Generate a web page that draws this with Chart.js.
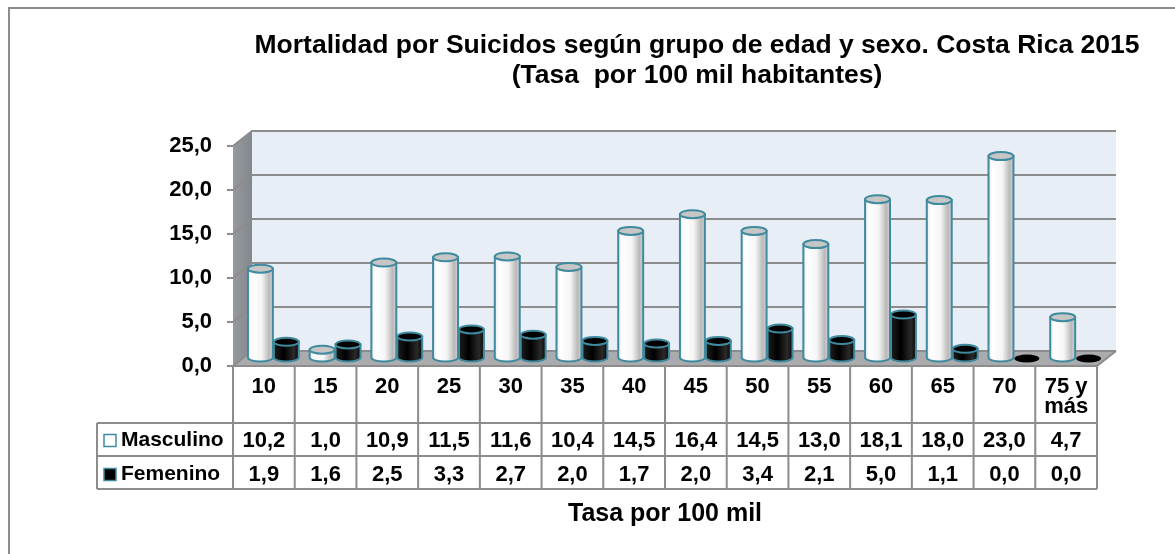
<!DOCTYPE html>
<html lang="es">
<head>
	<meta charset="UTF-8">
	<title>Mortalidad por Suicidos</title>
	<script src="https://cdn.jsdelivr.net/npm/chart.js@4.4.0/dist/chart.umd.min.js"></script>
	<style>
		body { margin: 0; background: #fff; }
		#caja { position: relative; width: 1175px; height: 554px; }
	</style>
</head>
<body>
	<div id="caja"><canvas id="grafico"></canvas></div>

	<script>
		// datos
		const grupos = ['10', '15', '20', '25', '30', '35', '40', '45', '50', '55', '60', '65', '70', ['75 y', 'más']];
		const masculino = [10.2, 1.0, 10.9, 11.5, 11.6, 10.4, 14.5, 16.4, 14.5, 13.0, 18.1, 18.0, 23.0, 4.7];
		const femenino = [1.9, 1.6, 2.5, 3.3, 2.7, 2.0, 1.7, 2.0, 3.4, 2.1, 5.0, 1.1, 0.0, 0.0];
		const series = ['Masculino', 'Femenino'];
		const marcasY = [0, 5, 10, 15, 20, 25];
		const titulo = ['Mortalidad por Suicidos según grupo de edad y sexo. Costa Rica 2015', '(Tasa  por 100 mil habitantes)'];
		const tituloEje = 'Tasa por 100 mil';

		const fuente = "'Liberation Sans', Arial, sans-serif";
		const teal = '#3f8a9e';
		const gris = '#8c8c8c';
		const DX = 19, DY = 15; // profundidad 3D

		const coma = v => v.toFixed(1).replace('.', ',');

		function cilindro(ctx, cx, arriba, abajo, w, oscuro) {
			const rx = w / 2 - 0.5, ry = 4;
			if (abajo - arriba < 1) {
				ctx.beginPath();
				ctx.ellipse(cx, abajo, rx, ry, 0, 0, Math.PI * 2);
				ctx.fillStyle = '#000';
				ctx.fill();
				return;
			}
			const g = ctx.createLinearGradient(cx - rx, 0, cx + rx, 0);
			if (oscuro) {
				g.addColorStop(0, '#1e1e1e');
				g.addColorStop(0.4, '#000');
				g.addColorStop(0.8, '#2a2a2a');
				g.addColorStop(1, '#080808');
			} else {
				g.addColorStop(0, '#e6e6e6');
				g.addColorStop(0.15, '#ffffff');
				g.addColorStop(0.55, '#f5f5f5');
				g.addColorStop(0.85, '#b9b9b9');
				g.addColorStop(1, '#d4d4d4');
			}
			ctx.beginPath();
			ctx.moveTo(cx - rx, arriba);
			ctx.lineTo(cx - rx, abajo);
			ctx.ellipse(cx, abajo, rx, ry, 0, Math.PI, 0, true);
			ctx.lineTo(cx + rx, arriba);
			ctx.closePath();
			ctx.fillStyle = g;
			ctx.fill();
			ctx.lineWidth = 2;
			ctx.strokeStyle = teal;
			ctx.stroke();

			ctx.beginPath();
			ctx.ellipse(cx, arriba, rx, ry, 0, 0, Math.PI * 2);
			ctx.fillStyle = oscuro ? '#000' : '#c6c6c6';
			ctx.fill();
			ctx.stroke();
		}

		const escena = {
			id: 'escena',
			beforeDraw(chart) {
				const ctx = chart.ctx;
				ctx.save();
				ctx.fillStyle = '#fff';
				ctx.fillRect(0, 0, chart.width, chart.height);
				ctx.strokeStyle = gris;
				ctx.lineWidth = 2;
				ctx.strokeRect(9, 8, chart.width + 40, chart.height + 40);

				// titulo
				ctx.fillStyle = '#000';
				ctx.font = 'bold 26.5px ' + fuente;
				ctx.textAlign = 'center';
				ctx.textBaseline = 'middle';
				ctx.fillText(titulo[0], 697, 46);
				ctx.fillText(titulo[1], 697, 76);
				ctx.restore();
			},
			beforeDatasetsDraw(chart) {
				const { ctx, chartArea: { left, right }, scales: { y } } = chart;
				const y0 = y.getPixelForValue(0), yTop = y.getPixelForValue(25);
				ctx.save();
				// pared de fondo
				ctx.fillStyle = '#e7eef6';
				ctx.fillRect(left + DX, yTop - DY, right - left, y0 - yTop);
				// pared lateral
				const gl = ctx.createLinearGradient(left, 0, left + DX, 0);
				gl.addColorStop(0, '#979ba0');
				gl.addColorStop(1, '#83878c');
				ctx.beginPath();
				ctx.moveTo(left, yTop);
				ctx.lineTo(left + DX, yTop - DY);
				ctx.lineTo(left + DX, y0 - DY);
				ctx.lineTo(left, y0);
				ctx.closePath();
				ctx.fillStyle = gl;
				ctx.fill();
				// piso
				ctx.beginPath();
				ctx.moveTo(left, y0);
				ctx.lineTo(right, y0);
				ctx.lineTo(right + DX, y0 - DY);
				ctx.lineTo(left + DX, y0 - DY);
				ctx.closePath();
				ctx.fillStyle = '#a9abad';
				ctx.fill();
				// lineas de division
				ctx.strokeStyle = gris;
				ctx.lineWidth = 2;
				marcasY.forEach(v => {
					const py = y.getPixelForValue(v);
					ctx.beginPath();
					ctx.moveTo(left, py);
					ctx.lineTo(left + DX, py - DY);
					ctx.lineTo(right + DX, py - DY);
					ctx.stroke();
				});
				ctx.beginPath();
				ctx.moveTo(right, y0);
				ctx.lineTo(right + DX, y0 - DY);
				ctx.stroke();
				ctx.restore();
			},
			afterDatasetsDraw(chart) {
				const ctx = chart.ctx;
				const m0 = chart.getDatasetMeta(0), m1 = chart.getDatasetMeta(1);
				ctx.save();
				grupos.forEach((g, i) => {
					[m0, m1].forEach((m, k) => {
						const el = m.data[i];
						const p = el.getProps(['x', 'y', 'base', 'width'], true);
						cilindro(ctx, p.x + DX / 2, p.y - DY / 2, p.base - DY / 2, p.width, k === 1);
					});
				});
				ctx.restore();
			},
			afterDraw(chart) {
				const { ctx, chartArea: { left, right, bottom }, scales: { x } } = chart;
				const paso = (right - left) / grupos.length;
				const fila1 = bottom + 57, fila2 = bottom + 90, fin = bottom + 123;
				const izq = 97;
				ctx.save();
				ctx.strokeStyle = gris;
				ctx.lineWidth = 2;
				ctx.beginPath();
				ctx.moveTo(left, bottom);
				ctx.lineTo(right, bottom);
				[fila1, fila2, fin].forEach(yy => {
					ctx.moveTo(izq, yy);
					ctx.lineTo(right, yy);
				});
				ctx.moveTo(izq, fila1);
				ctx.lineTo(izq, fin);
				for (let i = 0; i <= grupos.length; i++) {
					const px = left + paso * i;
					ctx.moveTo(px, bottom);
					ctx.lineTo(px, fin);
				}
				ctx.stroke();

				// valores
				ctx.fillStyle = '#000';
				ctx.font = 'bold 22px ' + fuente;
				ctx.textAlign = 'center';
				ctx.textBaseline = 'middle';
				const datos = [masculino, femenino];
				const centros = [(fila1 + fila2) / 2 + 1, (fila2 + fin) / 2 + 2];
				datos.forEach((serie, k) => {
					serie.forEach((v, i) => {
						ctx.fillText(coma(v), x.getPixelForValue(i), centros[k]);
					});
				});

				// leyenda
				ctx.textAlign = 'left';
				ctx.font = 'bold 21px ' + fuente;
				series.forEach((s, k) => {
					const cy = centros[k];
					ctx.fillStyle = k === 0 ? '#fff' : '#000';
					ctx.fillRect(104, cy - 6, 12, 12);
					ctx.strokeStyle = teal;
					ctx.lineWidth = 1.5;
					ctx.strokeRect(104, cy - 6, 12, 12);
					ctx.fillStyle = '#000';
					ctx.fillText(s, 121, cy);
				});
				ctx.restore();
			}
		};

		new Chart(document.getElementById('grafico'), {
			type: 'bar',
			data: {
				labels: grupos,
				datasets: [
					{ label: series[0], data: masculino, backgroundColor: 'rgba(0,0,0,0)', borderWidth: 0 },
					{ label: series[1], data: femenino, backgroundColor: 'rgba(0,0,0,0)', borderWidth: 0 }
				]
			},
			options: {
				responsive: true,
				maintainAspectRatio: false,
				animation: false,
				categoryPercentage: 0.84,
				barPercentage: 1.0,
				layout: { padding: { left: 0, right: 78, top: 146, bottom: 0 } },
				plugins: {
					legend: { display: false },
					tooltip: { enabled: false }
				},
				scales: {
					x: {
						grid: { display: false },
						border: { display: false },
						ticks: {
							color: '#000',
							font: { family: fuente, size: 22, weight: 'bold', lineHeight: 0.95 },
							padding: 2,
							maxRotation: 0,
							autoSkip: false
						},
						title: {
							display: true,
							text: tituloEje,
							color: '#000',
							font: { family: fuente, size: 25, weight: 'bold' },
							padding: { bottom: 25 }
						},
						afterFit(s) { s.height = 188; }
					},
					y: {
						min: 0,
						max: 25,
						ticks: {
							stepSize: 5,
							color: '#000',
							font: { family: fuente, size: 22, weight: 'bold' },
							padding: 15,
							callback: v => coma(v)
						},
						grid: { drawOnChartArea: false, drawTicks: true, tickLength: 6, color: gris, lineWidth: 2 },
						border: { display: false },
						afterFit(s) { s.width = 233; }
					}
				}
			},
			plugins: [escena]
		});
	</script>
</body>
</html>
